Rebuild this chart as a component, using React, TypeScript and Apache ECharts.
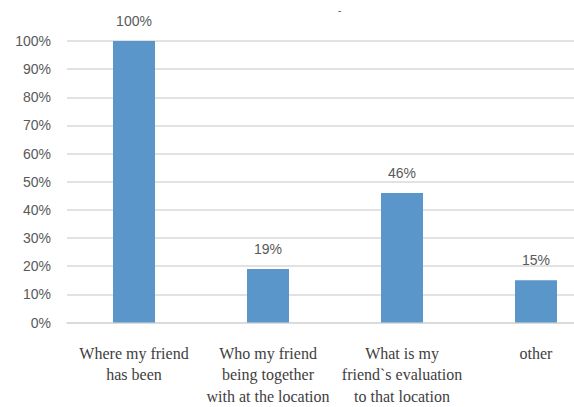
import React, { useEffect, useRef } from "react";
import * as echarts from "echarts";

const categories = [
  "Where my friend\nhas been",
  "Who my friend\nbeing together\nwith at the location",
  "What is my\nfriend`s evaluation\nto that location",
  "other",
];
const values = [100, 19, 46, 15];
const yTicks = [0, 10, 20, 30, 40, 50, 60, 70, 80, 90, 100];

export default function App() {
  const ref = useRef<HTMLDivElement>(null);
  useEffect(() => {
    if (!ref.current) return;
    const chart = echarts.init(ref.current, undefined, { renderer: "svg" });
    chart.setOption({
      animation: false,
      title: {
        text: "-",
        left: 333,
        top: 0,
        textStyle: { fontSize: 10, color: "#555", fontWeight: "normal" },
      },
      grid: { left: 67, right: 0, top: 41, bottom: 81, containLabel: false },
      xAxis: {
        type: "category",
        data: categories,
        axisLine: { show: true, lineStyle: { color: "#d9d9d9", width: 1.5 } },
        axisTick: { show: false },
        axisLabel: {
          interval: 0,
          margin: 20,
          fontFamily: "Liberation Serif",
          fontSize: 16,
          lineHeight: 21.5,
          color: "#404040",
        },
      },
      yAxis: {
        type: "value",
        min: yTicks[0],
        max: yTicks[yTicks.length - 1],
        interval: 10,
        axisLine: { show: false },
        axisTick: { show: false },
        splitLine: { lineStyle: { color: "#d9d9d9", width: 1.5 } },
        axisLabel: {
          margin: 16,
          fontFamily: "Liberation Sans",
          fontSize: 14,
          color: "#595959",
          formatter: (v: number) => v + "%",
        },
      },
      series: [
        {
          type: "bar",
          data: values,
          barWidth: 42,
          itemStyle: { color: "#5b96cb" },
          label: {
            show: true,
            position: "top",
            distance: 13,
            fontFamily: "Liberation Sans",
            fontSize: 14,
            color: "#595959",
            formatter: (p: any) => p.value + "%",
          },
        },
      ],
    });
    return () => chart.dispose();
  }, []);
  return (
    <div
      style={{ position: "fixed", left: 0, top: 0, width: 574, height: 407, overflow: "hidden", background: "#fff" }}
    >
      <div ref={ref} style={{ width: 603, height: 407 }} />
    </div>
  );
}
